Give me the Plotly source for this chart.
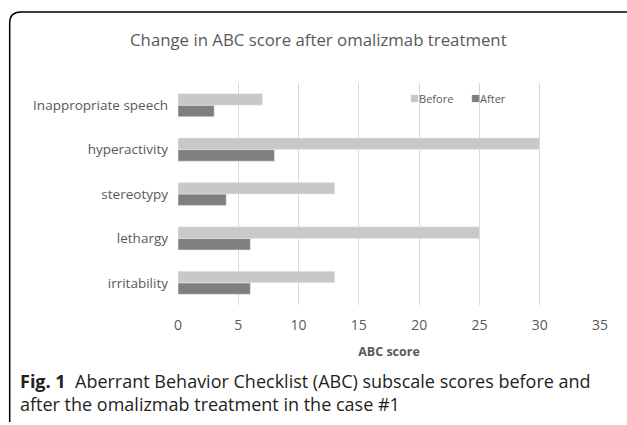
import plotly.graph_objects as go

categories = ["irritability", "lethargy", "stereotypy", "hyperactivity", "Inappropriate speech"]
before = [13, 25, 13, 30, 7]
after = [6, 6, 4, 8, 3]
x_ticks = [0, 5, 10, 15, 20, 25, 30, 35]

W, H = 627, 425
L, R, T, B = 177.5, 27, 83, 120
pw, ph = W - L - R, H - T - B

def px(x):
    return (x - L) / pw

def py(y):
    return (H - B - y) / ph

grey_txt = "#595959"
font = "Open Sans"
c_before = "#C8C8C8"
c_after = "#7F7F7F"

fig = go.Figure()
fig.add_trace(go.Bar(y=categories, x=after, name="After", orientation="h",
                     marker_color=c_after, showlegend=False))
fig.add_trace(go.Bar(y=categories, x=before, name="Before", orientation="h",
                     marker_color=c_before, showlegend=False))

border = (f"M {px(9)},{py(422)} L {px(9)},{py(23)} Q {px(9)},{py(12)} {px(20)},{py(12)} "
          f"L {px(627)},{py(12)}")

legend_ann = [
    dict(text=f"<span style='color:{c_before};font-size:15px'>■</span>Before", x=px(408), y=py(97)),
    dict(text=f"<span style='color:{c_after};font-size:15px'>■</span>After", x=px(469), y=py(97)),
]
anns = [dict(a, xref="paper", yref="paper", xanchor="left", yanchor="middle",
             showarrow=False, font=dict(size=11, color=grey_txt, family=font))
        for a in legend_ann]
anns.append(dict(text="<b>Fig. 1</b>  Aberrant Behavior Checklist (ABC) subscale scores before and<br>after the omalizmab treatment in the case #1",
                 x=px(17), y=py(367), xref="paper", yref="paper",
                 xanchor="left", yanchor="top", align="left", showarrow=False,
                 font=dict(family=font, size=18, color="#231F20")))

fig.update_layout(
    width=W, height=H,
    margin=dict(l=L, r=R, t=T, b=B, pad=0),
    paper_bgcolor="white", plot_bgcolor="white",
    barmode="group", bargap=0.48, bargroupgap=0,
    font=dict(family=font, color=grey_txt, size=13),
    title=dict(text="Change in ABC score after omalizmab treatment",
               x=px(318), xref="paper", xanchor="center",
               y=1 - 40 / H, yanchor="middle",
               font=dict(size=16.8, color=grey_txt, family=font)),
    xaxis=dict(range=[0, 35], tickvals=x_ticks, showgrid=True, gridcolor="#D9D9D9",
               gridwidth=1, zeroline=False, showline=False, ticks="",
               tickfont=dict(size=14, color=grey_txt), ticklabelstandoff=10,
               title=dict(text="<b>ABC score</b>", font=dict(size=12.5, color=grey_txt), standoff=14)),
    yaxis=dict(categoryorder="array", categoryarray=categories, showgrid=False,
               zeroline=False, showline=False, ticks="", ticklabelstandoff=9,
               tickfont=dict(size=13.5, color=grey_txt)),
    showlegend=False,
    shapes=[dict(type="path", path=border, xref="paper", yref="paper",
                 line=dict(color="black", width=1.5))],
    annotations=anns,
)

fig.write_html("out.html", config={"displayModeBar": False},
               post_script="document.body.style.margin='0px';document.body.style.padding='0px';")
